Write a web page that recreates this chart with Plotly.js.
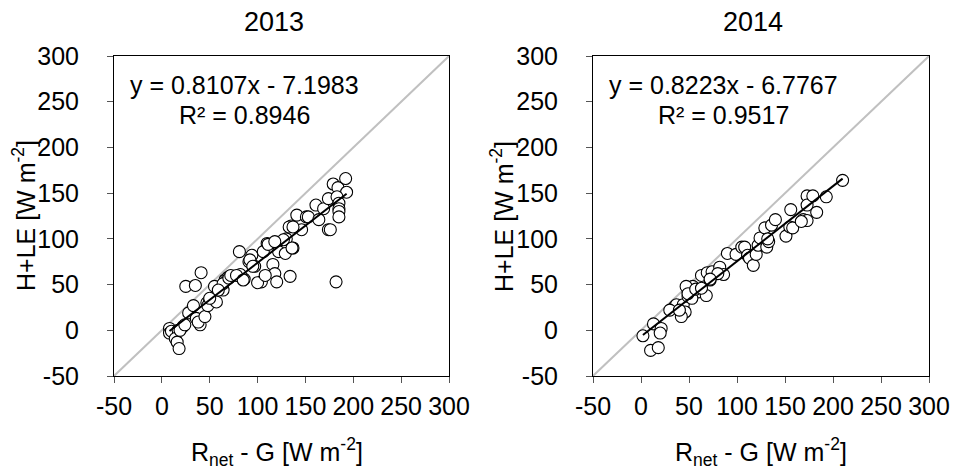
<!DOCTYPE html>
<html>
<head>
<meta charset="utf-8">
<script src="https://cdn.plot.ly/plotly-3.0.1.min.js"></script>
<style>html,body{margin:0;padding:0;background:#fff}#chart{width:954px;height:470px}</style>
</head>
<body>
<div id="chart"></div>
<script>
// ---- data ----
const x2013 = [8,8,10,17,22,14,16,18,19,24,25,35,41,28,33,36,40,38,45,47,50,48,57,55,64,66,69,64,59,50,
  81,86,82,94,91,92,97,95,104,110,106,116,118,120,119,122,129,130,137,134,135,141,146,151,153,161,164,169,174,174,
  176,179,184,192,193,183,185,185,185,185,182,127,111,118,136,133,137,70,72,78,100,108,85];
const y2013 = [2,-3,-1,0,4,-9,-13,-20,0,6,48,49,63,19,27,13,6,9,15,30,33,27,31,48,44,55,58,51,44,35,
  86,56,61,82,75,77,70,70,53,95,86,72,62,53,95,86,84,100,90,59,114,126,110,124,124,137,121,133,144,110,
  110,160,156,166,151,146,139,133,130,124,53,99,94,97,90,113,113,57,60,60,52,60,55];

const x2014 = [2,13,21,20,10,18,35,37,44,46,42,49,54,49,60,68,53,47,49,63,69,74,72,82,86,80,90,99,105,108,
  111,113,117,120,122,124,129,131,133,136,140,151,155,158,156,169,173,173,173,179,193,183,210,167,57,63,72,30,40,132];
const y2014 = [-6,7,2,-3,-22,-19,26,28,28,20,15,42,48,37,42,38,35,48,40,60,63,64,55,69,61,62,84,83,91,91,
  82,79,71,83,93,101,112,91,97,115,121,103,113,112,132,121,120,147,137,147,146,129,164,119,45,46,56,22,22,100];

const slope = [0.8107, 0.8223];
const intercept = [-7.1983, -6.7767];
const r2 = ["0.8946", "0.9517"];
const years = ["2013", "2014"];
const oneToOne = [-50, 300];
const tickVals = [-50, 0, 50, 100, 150, 200, 250, 300];
const tickText = ["-50", "0", "50", "100", "150", "200", "250", "300"];

// ---- build traces ----
const W = 954, H = 470;
const px = v => v / W, py = v => 1 - v / H;
const sets = [[x2013, y2013], [x2014, y2014]];
const traces = [];
sets.forEach((s, i) => {
  const xa = i === 0 ? 'x' : 'x2', ya = i === 0 ? 'y' : 'y2';
  traces.push({x: oneToOne, y: oneToOne, xaxis: xa, yaxis: ya, mode: 'lines',
    line: {color: '#c0c0c0', width: 2}, hoverinfo: 'skip'});
  traces.push({x: s[0], y: s[1], xaxis: xa, yaxis: ya, mode: 'markers',
    marker: {symbol: 'circle', size: 12, color: '#ffffff', line: {color: '#000000', width: 1.1}}});
  const xmin = Math.min(...s[0]), xmax = Math.max(...s[0]);
  traces.push({x: [xmin, xmax], y: [slope[i]*xmin + intercept[i], slope[i]*xmax + intercept[i]],
    xaxis: xa, yaxis: ya, mode: 'lines', line: {color: '#000000', width: 2}, hoverinfo: 'skip'});
});

const FONT = 'Arial, "Liberation Sans", sans-serif';
const TF = {family: FONT, size: 25, color: '#000'};
const axisBase = {
  range: [-50, 300], tickmode: 'array', tickvals: tickVals, ticktext: tickText,
  showline: true, mirror: true, linecolor: '#000', linewidth: 1,
  ticks: 'outside', ticklen: 6, tickcolor: '#555', tickwidth: 1, showgrid: false, zeroline: false,
  tickfont: TF, fixedrange: true
};
const yDom = [1 - 376/H, 1 - 56/H];
function ann(text, x, y, size, angle) {
  return {text: text, x: px(x), y: py(y), xref: 'paper', yref: 'paper', xanchor: 'center', yanchor: 'middle',
    showarrow: false, textangle: angle || 0, font: {family: FONT, size: size, color: '#000'}};
}
const layout = {
  width: W, height: H, margin: {l: 0, r: 0, t: 0, b: 0}, showlegend: false,
  paper_bgcolor: '#fff', plot_bgcolor: '#fff', font: {family: FONT, color: '#000', size: 25},
  xaxis:  Object.assign({}, axisBase, {domain: [px(114), px(449)], anchor: 'y', ticklabelstandoff: 2}),
  yaxis:  Object.assign({}, axisBase, {domain: yDom, anchor: 'x', ticklabelstandoff: 23}),
  xaxis2: Object.assign({}, axisBase, {domain: [px(593), px(929)], anchor: 'y2', ticklabelstandoff: 2}),
  yaxis2: Object.assign({}, axisBase, {domain: yDom, anchor: 'x2', ticklabelstandoff: 23}),
  annotations: [
    ann(years[0], 274, 22, 27),
    ann(years[1], 753, 22, 27),
    ann('y = ' + slope[0] + 'x - ' + Math.abs(intercept[0]).toFixed(4), 245, 85, 25),
    ann('R² = ' + r2[0], 244, 115, 25),
    ann('y = ' + slope[1] + 'x - ' + Math.abs(intercept[1]).toFixed(4), 723, 85, 25),
    ann('R² = ' + r2[1], 723, 115, 25),
    ann('R<sub>net</sub> - G [W m<sup>-2</sup>]', 277, 452, 25),
    ann('R<sub>net</sub> - G [W m<sup>-2</sup>]', 761, 452, 25),
    ann('H+LE [W m<sup>-2</sup>]', 24, 216, 25, -90),
    ann('H+LE [W m<sup>-2</sup>]', 502, 216, 25, -90)
  ]
};
Plotly.newPlot('chart', traces, layout, {staticPlot: true, displayModeBar: false});
</script>
</body>
</html>
